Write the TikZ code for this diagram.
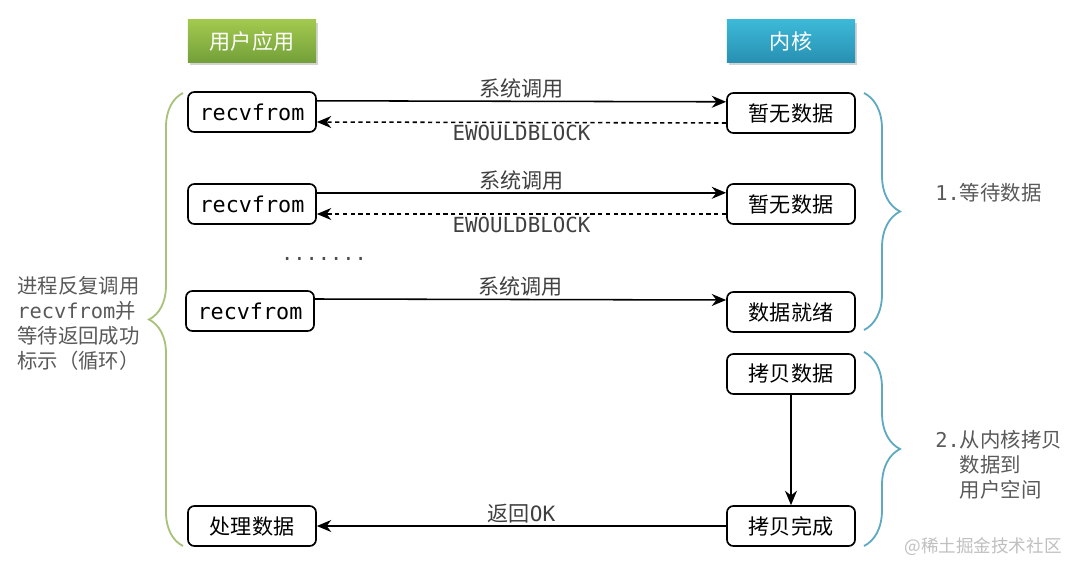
\documentclass[tikz,border=0pt]{standalone}
\usepackage{fontspec}
\newfontfamily\cjk{Noto Sans CJK SC}
\setmonofont{DejaVu Sans Mono}
\usepackage{xcolor}
\usetikzlibrary{arrows.meta, shadows, decorations.pathreplacing}

\definecolor{greentop}{HTML}{A2C94E}
\definecolor{greenbot}{HTML}{74A03A}
\definecolor{bluetop}{HTML}{3DB9D8}
\definecolor{bluebot}{HTML}{2890B2}
\definecolor{leftbrace}{HTML}{A9C27A}
\definecolor{rightbrace}{HTML}{5FAAC2}
\definecolor{labelgray}{HTML}{595959}

\begin{document}
\begin{tikzpicture}[font=\cjk, x=0.025cm, y=-0.025cm]

		% Setup the styles
		\tikzset{head style/.style={minimum width=3.2cm,
				minimum height=1.05cm,
				inner sep=0pt,
				text=white,
				drop shadow={opacity=0.35, shadow xshift=0.6mm, shadow yshift=-0.8mm},
				font=\cjk\fontsize{15}{18}\selectfont},
			box style/.style={draw,
				rounded corners=1.6mm,
				line width=1.2pt,
				fill=white,
				minimum width=3.2cm,
				minimum height=1cm,
				inner sep=0pt,
				font=\cjk\fontsize{15}{18}\selectfont},
			call style/.style={draw, line width=1.1pt, -{Stealth[length=3.6mm, width=3mm]}},
			label style/.style={text=black!75, font=\cjk\fontsize{15}{18}\selectfont, inner sep=1.5pt},
			code/.style={font=\ttfamily\fontsize{15.5}{18}\selectfont}}

		\useasboundingbox (0,0) rectangle (1080,573);

		% Draw the headers
		\node[head style, top color=greentop, bottom color=greenbot] at (252, 41) (app) {用户应用};
		\node[head style, top color=bluetop, bottom color=bluebot] at (791, 41) (kernel) {内核};

		% Draw the user side
		\node[box style, code] at (252, 112) (recvA) {recvfrom};
		\node[box style, code] at (252, 204) (recvB) {recvfrom};
		\node[box style, code] at (250, 311) (recvC) {recvfrom};
		\node[box style] at (252, 526) (handle) {处理数据};

		% Draw the kernel side
		\node[box style] at (791, 113) (nodataA) {暂无数据};
		\node[box style] at (791, 204) (nodataB) {暂无数据};
		\node[box style] at (791, 312) (ready) {数据就绪};
		\node[box style] at (791, 374) (copy) {拷贝数据};
		\node[box style] at (791, 526) (copied) {拷贝完成};

		\node[text=black!70, font=\ttfamily\fontsize{14.5}{16}\selectfont] at (324, 259) (dots) {.......};

		% Connect the boxes with arrows
		\path[every edge/.style={call style}]
		([yshift=0.28cm]recvA.east) edge node[label style, above] {系统调用} ([yshift=0.28cm]nodataA.west)
		([yshift=-0.25cm]nodataA.west) edge[dash pattern=on 3pt off 2.5pt] node[label style, below, font=\ttfamily\fontsize{14.8}{17}\selectfont] {EWOULDBLOCK} ([yshift=-0.25cm]recvA.east)
		([yshift=0.28cm]recvB.east) edge node[label style, above] {系统调用} ([yshift=0.28cm]nodataB.west)
		([yshift=-0.25cm]nodataB.west) edge[dash pattern=on 3pt off 2.5pt] node[label style, below, font=\ttfamily\fontsize{14.8}{17}\selectfont] {EWOULDBLOCK} ([yshift=-0.25cm]recvB.east)
		([yshift=0.3cm]recvC.east) edge node[label style, above] {系统调用} ([yshift=0.3cm]ready.west)
		(copy) edge (copied)
		(copied) edge node[label style, above] {返回\texttt{OK}} (handle);

		% Braces
		\draw[leftbrace, line width=1.3pt, decorate, decoration={brace, amplitude=0.85cm}]
		(183, 546) -- (183, 93);
		\draw[rightbrace, line width=1.3pt, decorate, decoration={brace, amplitude=0.9cm}]
		(864, 93) -- (864, 330);
		\draw[rightbrace, line width=1.3pt, decorate, decoration={brace, amplitude=0.9cm}]
		(864, 352) -- (864, 546);

		% Brace labels
		\node[text=labelgray, align=left, anchor=west, inner sep=0pt, font=\cjk\fontsize{14.5}{17.8}\selectfont] at (17, 323) (loop)
		{进程反复调用\\\texttt{recvfrom}并\\等待返回成功\\标示（循环）};
		\node[text=labelgray, anchor=west, inner sep=0pt, font=\cjk\fontsize{14.5}{17.8}\selectfont] at (935, 193) (wait)
		{\texttt{1.}等待数据};
		\node[text=labelgray, align=left, anchor=west, inner sep=0pt, font=\cjk\fontsize{14.5}{17.8}\selectfont] at (935, 465) (copytext)
		{\texttt{2.}从内核拷贝\\\phantom{\texttt{2.}}数据到\\\phantom{\texttt{2.}}用户空间};

		% Watermark
		\node[text=black!25, font=\cjk\fontsize{12.5}{14}\selectfont] at (983, 547) (mark) {@稀土掘金技术社区};
\end{tikzpicture}
\end{document}
